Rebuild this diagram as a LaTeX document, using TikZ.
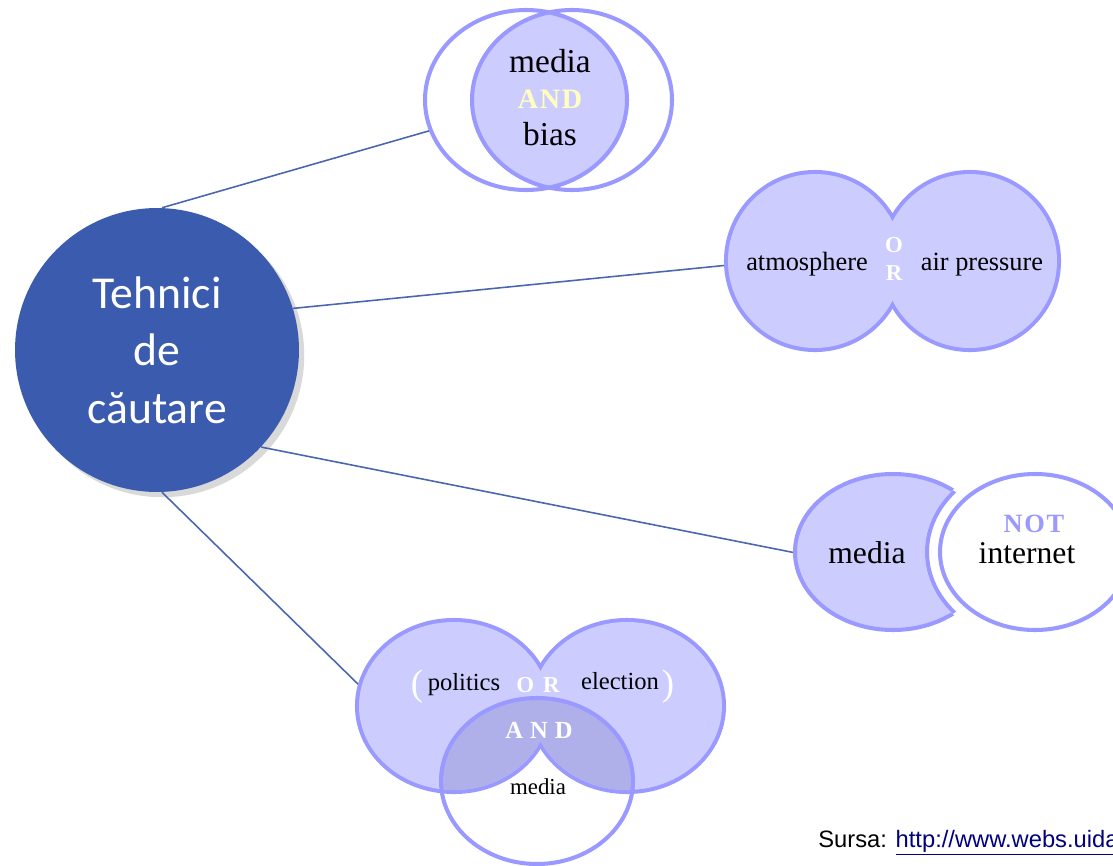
\documentclass[tikz,border=0pt]{standalone}
\usepackage{fontspec}
\setmainfont{Liberation Serif}
\newfontfamily\calibri{Carlito}
\newfontfamily\arial{Liberation Sans}
\usetikzlibrary{shadows}
\definecolor{rootblue}{HTML}{3A5BAE}
\definecolor{linkblue}{HTML}{4A66B0}
\definecolor{vennline}{HTML}{9999FF}
\definecolor{vennfill}{HTML}{CCCCFF}
\definecolor{venndark}{HTML}{AFAFEA}
\definecolor{andyellow}{HTML}{FFFFC0}
\definecolor{urlblue}{HTML}{000080}
\tikzset{link/.style={draw=linkblue, line width=0.9pt}}
\tikzset{ring/.style={draw=vennline, line width=2.3pt}}
\tikzset{outerring/.style={draw=vennline, line width=4.6pt}}
\tikzset{word/.style={anchor=base, inner sep=0pt, font=\fontsize{#1}{#1}\selectfont}}
\tikzset{opword/.style={anchor=base, inner sep=0pt, font=\bfseries\fontsize{#1}{#1}\selectfont}}

\begin{document}
\begin{tikzpicture}[x=0.02cm, y=-0.02cm]
    \useasboundingbox (0,0) rectangle (1113,866);

    % centre
    \node[circle, minimum size=5.68cm, fill=rootblue, text=white, align=center,
          drop shadow={opacity=0.3, shadow xshift=3pt, shadow yshift=-3pt},
          font=\calibri\fontsize{26}{32.7}\selectfont] (root) at (157,350) {Tehnici\\de\\căutare};

    % connector ends
    \coordinate (andL) at (432,130);
    \coordinate (orL) at (729,265);
    \coordinate (notL) at (796,553);
    \coordinate (mixL) at (362,688);

    \draw[link] (root.88) -- (andL);
    \draw[link] (root.17) -- (orL);
    \draw[link] (root.317) -- (notL);
    \draw[link] (root.272) -- (mixL);

    % media AND bias
    \fill[white] (526,100) ellipse [x radius=101, y radius=90];
    \fill[white] (572,100) ellipse [x radius=100, y radius=90];
    \begin{scope}
        \clip (526,100) ellipse [x radius=101, y radius=90];
        \fill[vennfill] (572,100) ellipse [x radius=100, y radius=90];
    \end{scope}
    \draw[ring] (526,100) ellipse [x radius=101, y radius=90];
    \draw[ring] (572,100) ellipse [x radius=100, y radius=90];
    \node[word=19] (andA) at (550,72) {media};
    \node[opword=16, text=andyellow] (andOp) at (550,108) {A\hspace{1pt}N\hspace{1pt}D};
    \node[word=19] (andB) at (550,145) {bias};

    % atmosphere OR air pressure
    \draw[outerring] (815,261) ellipse [x radius=87, y radius=87];
    \draw[outerring] (970,261) ellipse [x radius=87, y radius=87];
    \fill[vennfill] (815,261) ellipse [x radius=87, y radius=87];
    \fill[vennfill] (970,261) ellipse [x radius=87, y radius=87];
    \node[word=15] (orA) at (807,270) {atmosphere};
    \node[opword=13, text=white] (orO) at (894,252) {O};
    \node[opword=13, text=white] (orR) at (894,280) {R};
    \node[word=15] (orB) at (982,270) {air pressure};

    % media NOT internet
    \fill[vennfill] (893,552) ellipse [x radius=98, y radius=78];
    \draw[ring] (893,552) ellipse [x radius=98, y radius=78];
    \fill[white] (1035,552) ellipse [x radius=110, y radius=93];
    \begin{scope}
        \clip (893,552) ellipse [x radius=98, y radius=78];
        \draw[ring] (1035,552) ellipse [x radius=108, y radius=91];
    \end{scope}
    \draw[ring, fill=white] (1035,552) ellipse [x radius=95, y radius=78];
    \node[word=18] (notA) at (867,563) {media};
    \node[opword=15, text=vennline] (notOp) at (1034,532) {N\hspace{1pt}O\hspace{1pt}T};
    \node[word=18] (notB) at (1027,563) {internet};

    % (politics OR election) AND media
    \draw[outerring] (454,706) ellipse [x radius=95, y radius=84];
    \draw[outerring] (627,706) ellipse [x radius=95, y radius=84];
    \fill[vennfill] (454,706) ellipse [x radius=95, y radius=84];
    \fill[vennfill] (627,706) ellipse [x radius=95, y radius=84];
    \begin{scope}
        \clip (537,781) ellipse [x radius=96, y radius=83];
        \fill[venndark] (454,706) ellipse [x radius=95, y radius=84];
        \fill[venndark] (627,706) ellipse [x radius=95, y radius=84];
    \end{scope}
    \draw[ring] (537,781) ellipse [x radius=96, y radius=83];
    \node[word=21, text=white] (mixOpen) at (417,695) {(};
    \node[word=14] (mixA) at (464,690) {politics};
    \node[opword=13, text=white] (mixOr) at (538,692) {O\hspace{5pt}R};
    \node[word=14] (mixB) at (620,689) {election};
    \node[word=21, text=white] (mixClose) at (668,695) {)};
    \node[opword=14, text=white] (mixAnd) at (539,738) {A\hspace{4pt}N\hspace{4pt}D};
    \node[word=13] (mixC) at (538,794) {media};

    % source
    \node[anchor=base west, inner sep=0pt, font=\arial\fontsize{13.5}{13.5}\selectfont] (src) at (818,847)
        {Sursa: \textcolor{urlblue}{\underline{http://www.webs.uida}}};
\end{tikzpicture}
\end{document}
